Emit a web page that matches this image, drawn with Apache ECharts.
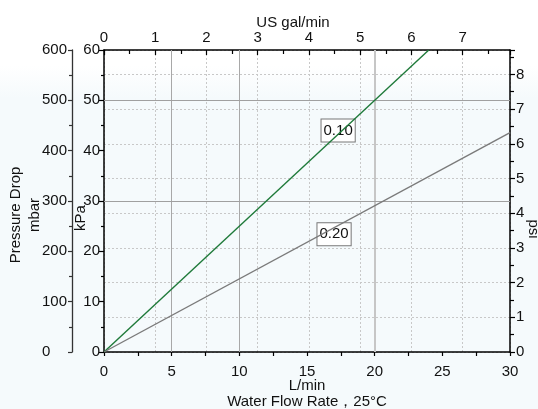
<!DOCTYPE html>
<html>
<head>
<meta charset="utf-8">
<script src="https://cdn.jsdelivr.net/npm/echarts@6/dist/echarts.min.js"></script>
<style>
html,body{margin:0;padding:0;background:#fff;}
#c{width:538px;height:409px;}
</style>
</head>
<body>
<div id="c"></div>
<script>
// Flow (L/min) vs pressure drop (kPa)
const flowRange = [0, 30];            // L/min
const kpaRange = [0, 60];             // kPa
const mbarRange = [0, 600];           // mbar
const psiMax = 60 / 6.894757;         // psi equivalent of 60 kPa
const galMax = 30 / 3.785412;         // US gal/min equivalent of 30 L/min

const seriesNames = ['0.10', '0.20'];
const line010 = [[0, 0], [24.0, 60]];
const line020 = [[0, 0], [30, 43.6]];
const labelAt010 = [17.3, 44.0];
const labelAt020 = [17.0, 23.4];

const refFlowLines = [5, 10];
const refFlowLineLight = [20];
const refKpaLines = [30, 50];

const font = 'Liberation Sans, Arial, sans-serif';
const txt = '#111';

const chart = echarts.init(document.getElementById('c'));

const labelStyle = {
  show: true,
  position: 'inside',
  color: '#111',
  fontSize: 15,
  fontFamily: font,
  backgroundColor: '#fff',
  borderColor: '#777',
  borderWidth: 1,
  padding: [4, 2, 3, 2]
};

chart.setOption({
  animation: false,
  backgroundColor: {
    type: 'linear', x: 0, y: 0, x2: 0, y2: 1,
    colorStops: [
      {offset: 0, color: '#ffffff'},
      {offset: 0.16, color: '#ffffff'},
      {offset: 0.24, color: '#f5fafc'},
      {offset: 1, color: '#f5fafc'}
    ]
  },
  textStyle: {fontFamily: font},
  grid: {left: 104, right: 28, top: 50, bottom: 57, containLabel: false, outerBoundsMode: 'none'},
  xAxis: [
    {
      type: 'value', position: 'bottom',
      min: flowRange[0], max: flowRange[1], interval: 5,
      name: 'L/min\nWater Flow Rate，25°C',
      nameLocation: 'middle', nameGap: 26, nameMoveOverlap: false,
      nameTextStyle: {color: txt, fontSize: 15, fontFamily: font, lineHeight: 16, verticalAlign: 'top'},
      axisLine: {show: true, onZero: false, lineStyle: {color: '#000', width: 1.5}},
      axisTick: {show: true, inside: false, length: 4, lineStyle: {color: '#000', width: 1.2}},
      minorTick: {show: true, splitNumber: 2, length: 4, lineStyle: {color: '#000', width: 1.2}},
      axisLabel: {color: txt, fontSize: 15, fontFamily: font, margin: 12},
      splitLine: {show: false}
    },
    {
      type: 'value', position: 'top',
      min: 0, max: galMax, interval: 1,
      name: 'US gal/min',
      nameLocation: 'middle', nameGap: 20, nameMoveOverlap: false,
      nameTextStyle: {color: txt, fontSize: 15, fontFamily: font, padding: [0, 28, 0, 0]},
      axisLine: {show: true, onZero: false, lineStyle: {color: '#000', width: 1.5}},
      axisTick: {show: true, inside: true, length: 5, lineStyle: {color: '#000', width: 1.2}},
      minorTick: {show: true, splitNumber: 2, length: 4, lineStyle: {color: '#000', width: 1.2}},
      axisLabel: {color: txt, fontSize: 15, fontFamily: font, margin: 5,
        showMaxLabel: false},
      splitLine: {show: true, lineStyle: {color: '#c8c8c8', type: [2, 2], width: 1}}
    }
  ],
  yAxis: [
    {
      type: 'value', position: 'left',
      min: kpaRange[0], max: kpaRange[1], interval: 10,
      name: 'kPa', nameLocation: 'middle', nameGap: 16, nameMoveOverlap: false,
      nameTextStyle: {color: txt, fontSize: 15, fontFamily: font, padding: [0, 34, 0, 0]},
      axisLine: {show: true, onZero: false, lineStyle: {color: '#000', width: 1.5}},
      axisTick: {show: true, inside: false, length: 5, lineStyle: {color: '#000', width: 1.2}},
      minorTick: {show: true, splitNumber: 2, length: 3, lineStyle: {color: '#000', width: 1.2}},
      axisLabel: {color: txt, fontSize: 15, fontFamily: font, margin: 4},
      splitLine: {show: false}
    },
    {
      type: 'value', position: 'left', offset: 32,
      min: mbarRange[0], max: mbarRange[1], interval: 100,
      name: 'Pressure Drop\nmbar', nameLocation: 'middle', nameGap: 28, nameMoveOverlap: false,
      nameTextStyle: {color: txt, fontSize: 15, fontFamily: font, lineHeight: 19, padding: [0, 28, 0, 0]},
      axisLine: {show: true, onZero: false, lineStyle: {color: '#333', width: 1.3}},
      axisTick: {show: true, inside: false, length: 4, lineStyle: {color: '#333', width: 1.2}},
      minorTick: {show: true, splitNumber: 2, length: 3, lineStyle: {color: '#333', width: 1.2}},
      axisLabel: {color: txt, fontSize: 15, fontFamily: font, margin: 30, align: 'left'},
      splitLine: {show: false}
    },
    {
      type: 'value', position: 'right',
      min: 0, max: psiMax, interval: 1,
      name: 'psi', nameLocation: 'middle', nameGap: 16, nameRotate: -90, nameMoveOverlap: false,
      nameTextStyle: {color: txt, fontSize: 15, fontFamily: font, padding: [0, 0, 0, 56]},
      axisLine: {show: true, onZero: false, lineStyle: {color: '#000', width: 1.5}},
      axisTick: {show: true, inside: false, length: 5, lineStyle: {color: '#000', width: 1.2}},
      minorTick: {show: true, splitNumber: 2, length: 4, lineStyle: {color: '#000', width: 1.2}},
      axisLabel: {color: txt, fontSize: 15, fontFamily: font, margin: 6, showMaxLabel: false},
      splitLine: {show: true, lineStyle: {color: '#c8c8c8', type: [2, 2], width: 1}}
    }
  ],
  series: [
    {
      name: seriesNames[0], type: 'line',
      xAxisIndex: 0, yAxisIndex: 0,
      data: line010, symbol: 'none', z: 5,
      lineStyle: {color: '#1f7a3a', width: 1.4},
      markPoint: {
        symbol: 'rect', symbolSize: 1, itemStyle: {color: 'rgba(0,0,0,0)'},
        label: labelStyle,
        data: [{coord: labelAt010, value: seriesNames[0]}]
      },
      markLine: {
        silent: true, symbol: 'none', label: {show: false},
        data: [
          ...refFlowLines.map(v => ({xAxis: v, lineStyle: {color: '#a8a8a8', width: 1, type: 'solid'}})),
          ...refFlowLineLight.map(v => ({xAxis: v, lineStyle: {color: '#c6c6c6', width: 2, type: 'solid'}})),
          ...refKpaLines.map(v => ({yAxis: v, lineStyle: {color: '#a0a0a0', width: 1, type: 'solid'}}))
        ]
      }
    },
    {
      name: seriesNames[1], type: 'line',
      xAxisIndex: 0, yAxisIndex: 0,
      data: line020, symbol: 'none', z: 5,
      lineStyle: {color: '#7a7a7a', width: 1.4},
      markPoint: {
        symbol: 'rect', symbolSize: 1, itemStyle: {color: 'rgba(0,0,0,0)'},
        label: labelStyle,
        data: [{coord: labelAt020, value: seriesNames[1]}]
      }
    }
  ]
});
</script>
</body>
</html>
